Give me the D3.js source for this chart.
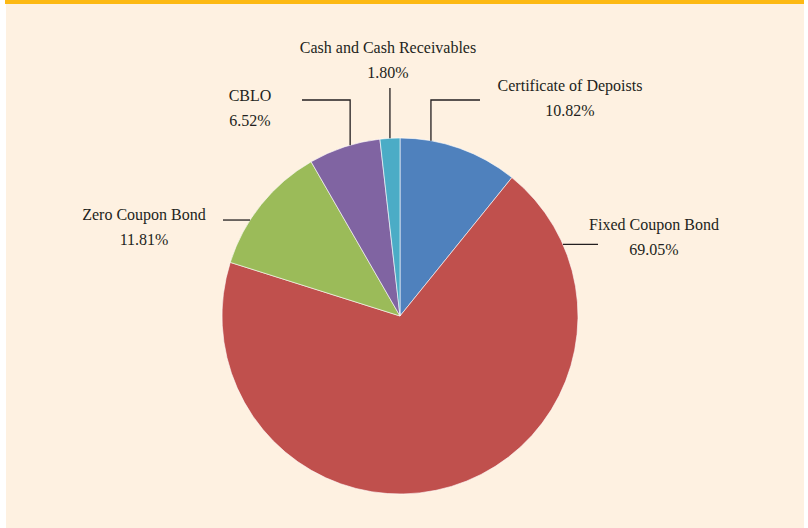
<!DOCTYPE html>
<html lang="en">
<head>
<meta charset="utf-8">
<title>Portfolio Pie</title>
<script src="https://d3js.org/d3.v7.min.js"></script>
<style>
  body { margin: 0; background: #fff; }
  .lbl { font-family: "Liberation Serif", "DejaVu Serif", serif; font-size: 16px; fill: #231f20; }
</style>
</head>
<body>
<div id="chart"></div>
<script>
// data
var categories = ["Certificate of Depoists", "Fixed Coupon Bond", "Zero Coupon Bond", "CBLO", "Cash and Cash Receivables"];
var values = [10.82, 69.05, 11.81, 6.52, 1.80];
var valueLabels = ["10.82%", "69.05%", "11.81%", "6.52%", "1.80%"];
var colors = ["#4f81bd", "#c0504d", "#9bbb59", "#8064a2", "#4bacc6"];

// label layout: center of text block, and leader line shape
var labelPos = [[570, 85], [654, 224], [144, 214], [250, 95], [388, 47]];
// frac: where along the slice the leader touches; vy: vertical elbow y; ex: end x
var leaders = [
  {frac: 0.257, vy: 100, ex: 480},
  {frac: 0.11, vy: null, ex: 598},
  {frac: 0.355, vy: null, ex: 223},
  {frac: 0.583, vy: 100, ex: 302},
  {frac: 0.5, vy: 88, ex: null}
];

var W = 808, H = 528;
var cx = 400, cy = 316, r = 178;

var svg = d3.select("#chart").append("svg")
  .attr("width", W).attr("height", H);

// panel + top strip
svg.append("rect").attr("x", 6).attr("y", 0).attr("width", 798).attr("height", H).attr("fill", "#fef1e1");
svg.append("rect").attr("x", 5).attr("y", 0).attr("width", 799).attr("height", 4).attr("fill", "#fdb913");

var pie = d3.pie().sort(null).value(function(d) { return d; });
var arcs = pie(values);
var arc = d3.arc().innerRadius(0).outerRadius(r);

var g = svg.append("g").attr("transform", "translate(" + cx + "," + cy + ")");

g.selectAll("path.slice")
  .data(arcs)
  .enter().append("path")
    .attr("class", "slice")
    .attr("d", arc)
    .attr("fill", function(d, i) { return colors[i]; })
    .attr("stroke", "#ffffff")
    .attr("stroke-width", 0.6);

// leader lines
svg.selectAll("path.leader")
  .data(arcs)
  .enter().append("path")
    .attr("class", "leader")
    .attr("fill", "none")
    .attr("stroke", "#231f20")
    .attr("stroke-width", 1.3)
    .attr("d", function(d, i) {
      var L = leaders[i];
      var a = d.startAngle + (d.endAngle - d.startAngle) * L.frac;
      var x0 = cx + r * Math.sin(a), y0 = cy - r * Math.cos(a);
      var p = d3.path();
      p.moveTo(x0, y0);
      if (L.vy !== null) {
        p.lineTo(x0, L.vy);
        if (L.ex !== null) p.lineTo(L.ex, L.vy);
      } else {
        p.lineTo(L.ex, y0);
      }
      return p.toString();
    });

// labels
var lbl = svg.selectAll("text.lbl")
  .data(arcs)
  .enter().append("text")
    .attr("class", "lbl")
    .attr("text-anchor", "middle")
    .attr("x", function(d, i) { return labelPos[i][0]; })
    .attr("y", function(d, i) { return labelPos[i][1]; });

lbl.append("tspan")
  .attr("x", function(d, i) { return labelPos[i][0]; })
  .attr("dy", "0.35em")
  .text(function(d, i) { return categories[i]; });
lbl.append("tspan")
  .attr("x", function(d, i) { return labelPos[i][0]; })
  .attr("dy", 25)
  .text(function(d, i) { return valueLabels[i]; });
</script>
</body>
</html>
